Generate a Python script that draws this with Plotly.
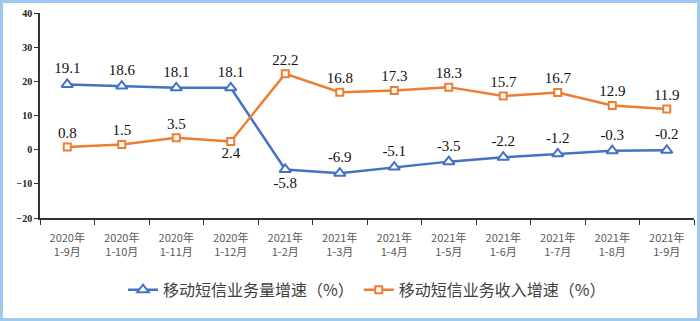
import plotly.graph_objects as go

categories = ["2020年<br>1-9月", "2020年<br>1-10月", "2020年<br>1-11月", "2020年<br>1-12月",
              "2021年<br>1-2月", "2021年<br>1-3月", "2021年<br>1-4月", "2021年<br>1-5月",
              "2021年<br>1-6月", "2021年<br>1-7月", "2021年<br>1-8月", "2021年<br>1-9月"]
volume_growth = [19.1, 18.6, 18.1, 18.1, -5.8, -6.9, -5.1, -3.5, -2.2, -1.2, -0.3, -0.2]
revenue_growth = [0.8, 1.5, 3.5, 2.4, 22.2, 16.8, 17.3, 18.3, 15.7, 16.7, 12.9, 11.9]
series_names = ["移动短信业务量增速（%）", "移动短信业务收入增速（%）"]

blue = "#4472C4"
orange = "#ED7D31"

vol_pos = ["bottom center" if i == 4 else "top center" for i in range(len(volume_growth))]
rev_pos = ["bottom center" if i == 3 else "top center" for i in range(len(revenue_growth))]

fig = go.Figure()
fig.add_trace(go.Scatter(
    x=categories, y=volume_growth, name=series_names[0], mode="lines+markers+text",
    line=dict(color=blue, width=2.5),
    marker=dict(symbol="triangle-up", size=10, color="white", line=dict(color=blue, width=2)),
    text=[f"{v:.1f}" for v in volume_growth], textposition=vol_pos,
    textfont=dict(family="Liberation Serif", size=15, color="#111111"),
))
fig.add_trace(go.Scatter(
    x=categories, y=revenue_growth, name=series_names[1], mode="lines+markers+text",
    line=dict(color=orange, width=2.5),
    marker=dict(symbol="square", size=7, color="white", line=dict(color=orange, width=2)),
    text=[f"{v:.1f}" for v in revenue_growth], textposition=rev_pos,
    textfont=dict(family="Liberation Serif", size=15, color="#111111"),
))

L, R, T, B = 40, 6, 13, 103
W, H = 700, 321
pw, ph = W - L - R, H - T - B

fig.update_layout(
    width=W, height=H,
    margin=dict(l=L, r=R, t=T, b=B),
    paper_bgcolor="white", plot_bgcolor="white",
    showlegend=True,
    legend=dict(orientation="h", x=0.5, xanchor="center", y=-0.35, yanchor="middle",
                font=dict(family="Noto Sans CJK SC", size=16, color="#404040"),
                itemwidth=30, traceorder="normal"),
    xaxis=dict(type="category", range=[-0.5, 11.5], showline=True, linecolor="#333333",
               linewidth=1.5, ticks="outside", tickson="boundaries", ticklen=5,
               tickcolor="#333333", showgrid=False, ticklabelstandoff=9,
               tickfont=dict(family="Noto Sans CJK SC", size=11, color="#595959")),
    yaxis=dict(range=[-20, 40], dtick=10, showline=True, linecolor="#333333", linewidth=1.5,
               ticks="outside", ticklen=4, tickcolor="#333333", showgrid=False, zeroline=False,
               tickfont=dict(family="Liberation Serif", size=10, color="#222222", weight="bold")),
    shapes=[dict(type="rect", xref="paper", yref="paper",
                 x0=-(L - 1.5) / pw, x1=(W - L - 1.5) / pw,
                 y0=-(B - 1.5) / ph, y1=1 + (T - 1.5) / ph,
                 line=dict(color="#9DC8F0", width=3), layer="above")],
)

fig.write_html("out.html")
